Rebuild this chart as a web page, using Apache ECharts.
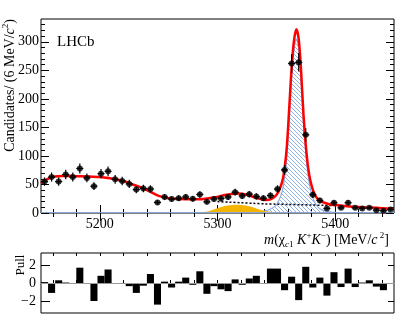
<!DOCTYPE html>
<html>
<head>
<meta charset="utf-8">
<script src="https://cdn.jsdelivr.net/npm/echarts@6/dist/echarts.min.js"></script>
<style>
  html, body { margin: 0; padding: 0; background: #fff; }
  #chart { width: 411px; height: 326px; }
</style>
</head>
<body>
<div id="chart"></div>
<script>
// bin centres, 6 MeV bins
const binCenters = [5153, 5159, 5165, 5171, 5177, 5183, 5189, 5195, 5201, 5207,
  5213, 5219, 5225, 5231, 5237, 5243, 5249, 5255, 5261, 5267,
  5273, 5279, 5285, 5291, 5297, 5303, 5309, 5315, 5321, 5327,
  5333, 5339, 5345, 5351, 5357, 5363, 5369, 5375, 5381, 5387,
  5393, 5399, 5405, 5411, 5417, 5423, 5429, 5435, 5441, 5447]
const counts = [55, 63, 55, 67.5, 63, 78, 61.5, 47, 69, 73,
  59, 56, 51, 41, 43, 42, 18.5, 28, 24.5, 26,
  28, 25, 32.5, 19.5, 24.5, 25.5, 28, 36.5, 30, 33,
  29, 26, 30.5, 42, 75.5, 262, 264, 137, 32, 22,
  8, 18, 9, 18, 9, 8, 9, 5, 4, 6]
const errors = [7.4, 8, 7.4, 8.2, 8, 8.8, 7.8, 6.9, 8.3, 8.5,
  7.7, 7.5, 7.1, 6.4, 6.6, 6.5, 4.3, 5.3, 5, 5.1,
  5.3, 5, 5.7, 4.4, 5, 5, 5.3, 6, 5.5, 5.7,
  5.4, 5.1, 5.5, 6.5, 8.7, 16.2, 16.2, 11.7, 5.7, 4.7,
  2.8, 4.2, 3, 4.2, 3, 2.8, 3, 2.2, 2, 2.4]
const pulls = [0.1, -1.1, 0.3, 0.05, -0.05, 1.7, -0.1, -2.0, 0.8, 1.5,
  -0.05, -0.05, -0.35, -1.1, -0.3, 1.0, -2.4, 0.15, -0.5, 0.15,
  0.6, -0.2, 1.3, -1.2, -0.35, -0.7, -0.9, 0.4, -0.2, 0.5,
  0.8, 0, 1.6, 1.6, -0.8, 0.7, -1.9, 1.8, -0.5, 0.6,
  -1.4, 1.2, -0.45, 1.6, -0.45, 0.05, 0.3, -0.4, -0.8, -0.1]

// fit curves
const totalM = [5150, 5155, 5160, 5170, 5180, 5190, 5200, 5210, 5220, 5228, 5236, 5243, 5250, 5258, 5268, 5278, 5288, 5298, 5306, 5312, 5318, 5324, 5330, 5336, 5341, 5345, 5349, 5352, 5355, 5357, 5359, 5361, 5363, 5365, 5367, 5369, 5371, 5373, 5375, 5377, 5379, 5381, 5383, 5386, 5390, 5395, 5400, 5410, 5420, 5430, 5440, 5450]
const totalV = [52, 59, 63.5, 65, 64.5, 64, 63, 60.5, 56, 50, 44, 37, 30, 26, 24.5, 24, 24.5, 27.5, 31.5, 33.5, 34, 32.5, 28.5, 25, 23, 24, 29, 38, 55, 78, 118, 185, 255, 302, 322, 305, 250, 175, 120, 80, 56, 41, 31, 23, 18.5, 15.5, 14, 12, 10.5, 9.5, 8.5, 7.5]
const signalM = [5330, 5336, 5341, 5345, 5349, 5352, 5355, 5357, 5359, 5361, 5363, 5365, 5367, 5369, 5371, 5373, 5375, 5377, 5379, 5381, 5383, 5386, 5390, 5395, 5400, 5405]
const signalV = [0.5, 2, 4, 7, 12, 21, 38, 61, 101, 168, 238, 285, 305, 288, 234, 160, 106, 66, 42, 27, 17, 9, 4.5, 2, 1, 0.5]
const combM = [5300, 5310, 5320, 5330, 5340, 5350, 5360, 5370, 5380, 5390, 5400]
const combV = [20, 19, 18, 17, 16, 15.5, 15, 14.5, 14, 13.5, 13]
const reflM = [5285, 5290, 5295, 5300, 5305, 5310, 5315, 5320, 5325, 5330, 5335, 5340, 5345, 5350, 5360, 5370, 5380, 5390, 5395]
const reflV = [0, 2, 5, 8.5, 11.5, 13.5, 14.5, 14, 12.5, 10, 6.5, 3.5, 2, 1.5, 1, 0.8, 0.6, 0.4, 0]
const otherM = [5150, 5450]
const otherV = [0.8, 0.8]

// ticks
const xMajor = [5200, 5300, 5400]
const xMinor = [5160, 5180, 5220, 5240, 5260, 5280, 5320, 5340, 5360, 5380, 5420, 5440]
const xPullTicks = [5160, 5180, 5200, 5220, 5240, 5260, 5280, 5300, 5320, 5340, 5360, 5380, 5400, 5420, 5440]
const yMajor = [0, 50, 100, 150, 200, 250, 300]
const yMinor = [10, 20, 30, 40, 60, 70, 80, 90, 110, 120, 130, 140, 160, 170, 180, 190, 210, 220, 230, 240, 260, 270, 280, 290, 310, 320, 330]
const pullTicks = [-2, 0, 2]

const zip = (a, b) => a.map((v, i) => [v, b[i]])
const serif = '"Liberation Serif", "DejaVu Serif", serif'

const hatch = document.createElement('canvas')
hatch.width = 4
hatch.height = 4
const hctx = hatch.getContext('2d')
hctx.strokeStyle = '#8fb2e6'
hctx.lineWidth = 1
hctx.beginPath()
hctx.moveTo(0, 0); hctx.lineTo(4, 4)
hctx.moveTo(-1, 3); hctx.lineTo(1, 5)
hctx.moveTo(3, -1); hctx.lineTo(5, 1)
hctx.stroke()

function tickAxis(grid, pos, values, len, extra) {
  return Object.assign({
    type: 'value', gridIndex: grid, position: pos,
    axisLine: { show: false }, splitLine: { show: false },
    axisLabel: { show: false },
    axisTick: { show: true, inside: true, length: len, customValues: values, lineStyle: { color: '#000', width: 1 } }
  }, extra)
}

const chart = echarts.init(document.getElementById('chart'), null, { renderer: 'canvas' })
const xr = { min: 5150, max: 5450 }
const yr = { min: 0, max: 340 }
const pr = { min: -3.33, max: 3.33 }

const option = {
  animation: false,
  backgroundColor: '#fff',
  grid: [
    { left: 41, right: 17, top: 19, height: 194, show: true, borderColor: '#000', borderWidth: 1 },
    { left: 41, right: 17, top: 253, height: 60, show: true, borderColor: '#000', borderWidth: 1 }
  ],
  xAxis: [
    tickAxis(0, 'bottom', xMajor, 8, Object.assign({
      axisLabel: { show: true, customValues: xMajor, fontFamily: serif, fontSize: 14, color: '#000', margin: 4, formatter: v => String(v) }
    }, xr)),
    tickAxis(0, 'bottom', xMinor, 4, xr),
    tickAxis(0, 'top', xMajor, 8, xr),
    tickAxis(0, 'top', xMinor, 4, xr),
    { type: 'category', gridIndex: 1, data: binCenters, show: false, boundaryGap: true },
    tickAxis(1, 'bottom', xPullTicks, 3, xr),
    tickAxis(1, 'top', xPullTicks, 3, xr)
  ],
  yAxis: [
    tickAxis(0, 'left', yMajor, 8, Object.assign({
      axisLabel: { show: true, customValues: yMajor, fontFamily: serif, fontSize: 14, color: '#000', margin: 2 }
    }, yr)),
    tickAxis(0, 'left', yMinor, 4, yr),
    tickAxis(0, 'right', yMajor, 8, yr),
    tickAxis(0, 'right', yMinor, 4, yr),
    tickAxis(1, 'left', pullTicks, 9, Object.assign({
      axisLabel: {
        show: true, customValues: pullTicks, fontFamily: serif, fontSize: 14, color: '#000', margin: 5,
        formatter: v => String(v).replace('-', '\u2212')
      }
    }, pr)),
    tickAxis(1, 'right', pullTicks, 6, pr)
  ],
  graphic: [
    { type: 'text', x: 57, y: 42, style: { text: 'LHCb', font: '15px ' + serif, fill: '#000', verticalAlign: 'middle' } },
    {
      type: 'text', x: 10, y: 19, rotation: Math.PI / 2,
      style: {
        text: 'Candidates/ (6 MeV/{i|c}{sup|2})', align: 'right', verticalAlign: 'middle',
        font: '14px ' + serif, fill: '#000',
        rich: {
          i: { fontFamily: serif, fontSize: 14, fontStyle: 'italic', lineHeight: 18 },
          sup: { fontFamily: serif, fontSize: 9, verticalAlign: 'top', lineHeight: 18 }
        }
      }
    },
    {
      type: 'text', x: 389, y: 240,
      style: {
        text: '{i|m}(\u03c7{subi|c}{sub|1} {i|K}{sup|+}{i|K}{sup|\u2212}) [MeV/{i|c}{sup| 2}]',
        align: 'right', verticalAlign: 'middle', font: '14px ' + serif, fill: '#000',
        rich: {
          i: { fontFamily: serif, fontSize: 14, fontStyle: 'italic', lineHeight: 18 },
          sub: { fontFamily: serif, fontSize: 9, verticalAlign: 'bottom', lineHeight: 18 },
          subi: { fontFamily: serif, fontSize: 9, fontStyle: 'italic', verticalAlign: 'bottom', lineHeight: 18 },
          sup: { fontFamily: serif, fontSize: 9, verticalAlign: 'top', lineHeight: 18 }
        }
      }
    },
    {
      type: 'text', x: 21, y: 265, rotation: Math.PI / 2,
      style: { text: 'Pull', align: 'center', verticalAlign: 'middle', font: '13px ' + serif, fill: '#000' }
    }
  ],
  series: [
    {
      type: 'line', xAxisIndex: 0, yAxisIndex: 0, data: zip(signalM, signalV), smooth: 0.3,
      showSymbol: false, z: 1,
      lineStyle: { color: '#88ade6', width: 1.2 },
      areaStyle: { color: { image: hatch, repeat: 'repeat' }, opacity: 1 }
    },
    {
      type: 'line', xAxisIndex: 0, yAxisIndex: 0, data: zip(reflM, reflV), smooth: 0.3,
      showSymbol: false, z: 2,
      lineStyle: { width: 0 },
      areaStyle: { color: '#f5b400', opacity: 1 }
    },
    {
      type: 'line', xAxisIndex: 0, yAxisIndex: 0, data: zip(otherM, otherV),
      showSymbol: false, z: 2, lineStyle: { color: '#8aa8da', width: 1 }
    },
    {
      type: 'line', xAxisIndex: 0, yAxisIndex: 0, data: zip(combM, combV), smooth: 0.3,
      showSymbol: false, z: 3, lineStyle: { color: '#000', width: 1.5, type: [2, 2] }
    },
    {
      type: 'line', xAxisIndex: 0, yAxisIndex: 0, data: zip(totalM, totalV), smooth: 0.3,
      showSymbol: false, z: 4, lineStyle: { color: '#ff0000', width: 2.5 }
    },
    {
      type: 'custom', xAxisIndex: 0, yAxisIndex: 0, z: 5,
      data: binCenters.map((m, i) => [m, counts[i], errors[i]]),
      renderItem: (params, api) => {
        const x = api.value(0), y = api.value(1), e = api.value(2)
        const c = api.coord([x, y])
        const hi = api.coord([x, y + e])
        const lo = api.coord([x, y - e])
        const l = api.coord([x - 3, y])
        const r = api.coord([x + 3, y])
        const st = { stroke: '#000', lineWidth: 1.2 }
        return {
          type: 'group', children: [
            { type: 'line', shape: { x1: c[0], y1: hi[1], x2: c[0], y2: lo[1] }, style: st },
            { type: 'line', shape: { x1: l[0], y1: c[1], x2: r[0], y2: c[1] }, style: st }
          ]
        }
      }
    },
    {
      type: 'scatter', xAxisIndex: 0, yAxisIndex: 0, z: 6,
      data: zip(binCenters, counts), symbol: 'circle', symbolSize: 6,
      itemStyle: { color: '#000' }
    },
    {
      type: 'bar', xAxisIndex: 4, yAxisIndex: 4, data: pulls, barCategoryGap: '0%',
      itemStyle: { color: '#000' }, z: 3,
      markLine: {
        silent: true, symbol: 'none', label: { show: false },
        lineStyle: { color: '#999', width: 1, type: 'solid' },
        data: [{ yAxis: 0 }]
      }
    }
  ]
}
chart.setOption(option)
</script>
</body>
</html>
